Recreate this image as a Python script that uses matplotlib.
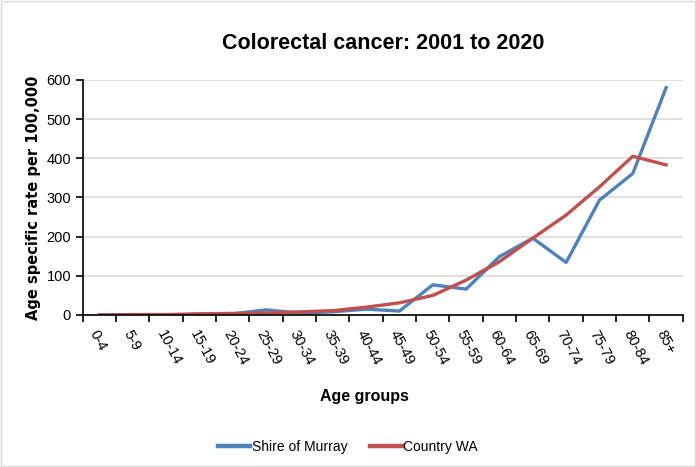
import matplotlib.pyplot as plt
import numpy as np

age_groups = ['0-4', '5-9', '10-14', '15-19', '20-24', '25-29', '30-34', '35-39', '40-44',
              '45-49', '50-54', '55-59', '60-64', '65-69', '70-74', '75-79', '80-84', '85+']
shire_murray = [0, 0, 0, 2, 3, 13, 5, 8, 15, 10, 77, 66, 149, 196, 134, 293, 361, 580]
country_wa = [0, 1, 1, 3, 4, 5, 8, 11, 20, 31, 50, 89, 136, 196, 255, 327, 405, 383]

plt.rcParams['font.family'] = ['Liberation Sans', 'DejaVu Sans']

fig = plt.figure(figsize=(6.96, 4.67), dpi=100)
ax = fig.add_axes([0.119, 0.3255, 0.862, 0.5035])

x = np.arange(len(age_groups))
ax.plot(x, shire_murray, color='#4F81BD', linewidth=2.4, label='Shire of Murray')
ax.plot(x, country_wa, color='#C0504D', linewidth=2.4, label='Country WA')

ax.set_xlim(-0.5, len(age_groups) - 0.5)
ax.set_ylim(0, 600)
ax.set_yticks(np.arange(0, 601, 100))
ax.grid(axis='y', color='#d9d9d9', linewidth=1.2)
ax.set_axisbelow(True)
ax.spines['top'].set_visible(False)
ax.spines['right'].set_visible(False)
ax.spines['left'].set_linewidth(1.2)
ax.spines['bottom'].set_linewidth(1.2)

# ticks sit between categories, labels under each point
ax.set_xticks(np.arange(-0.5, len(age_groups), 1))
ax.set_xticklabels([])
ax.set_xticks(x, minor=True)
ax.set_xticklabels(age_groups, minor=True, rotation=-62, ha='left', va='top',
                   rotation_mode='anchor', fontsize=10.5)
ax.tick_params(axis='x', which='minor', length=0, pad=9)
ax.tick_params(axis='x', which='major', length=5, width=1.2)
ax.tick_params(axis='y', length=5, width=1.2, labelsize=10.5)

ax.set_title('Colorectal cancer: 2001 to 2020', fontsize=15.5, fontweight='bold', pad=22)
ax.set_ylabel('Age specific rate per 100,000', fontsize=10.5, fontweight='bold',
              family='DejaVu Sans')
fig.text(0.524, 0.15, 'Age groups', ha='center', va='center', fontsize=11.5, fontweight='bold')

fig.legend(loc='center', bbox_to_anchor=(0.5, 0.043), ncol=2, frameon=False,
           fontsize=10, handlelength=2.3, handletextpad=0.1, columnspacing=1.6)
for line in fig.legends[0].get_lines():
    line.set_linewidth(3.2)

fig.patches.append(plt.Rectangle((0.002, 0.002), 0.996, 0.996, transform=fig.transFigure,
                                 fill=False, edgecolor='#d9d9d9', linewidth=1))

plt.savefig('out.png', dpi=100)
